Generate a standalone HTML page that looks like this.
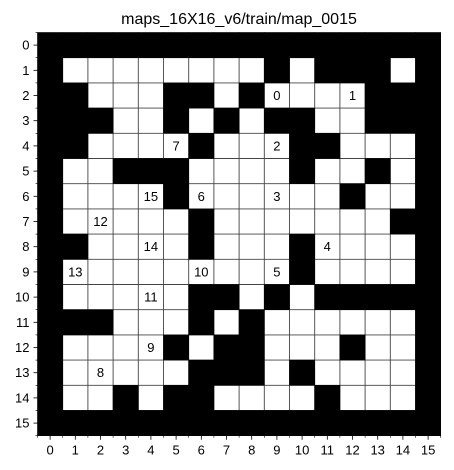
<!DOCTYPE html>
<html><head><meta charset="utf-8"><style>
html,body{margin:0;padding:0;background:#fff;}
svg{display:block;font-family:"Liberation Sans","DejaVu Sans",sans-serif;}
</style></head><body>
<svg id="chart" width="454" height="470" viewBox="0 0 454 470" xmlns="http://www.w3.org/2000/svg">
<text x="239" y="24" font-size="16" text-anchor="middle" fill="#000">maps_16X16_v6/train/map_0015</text>
<g id="cells"></g><g id="grid"></g><g id="labels"></g><g id="axes"></g>
</svg>
<script>
const rows = [
"1111111111111111",
"1000000001011101",
"1100011010000111",
"1110010101100111",
"1100001000110001",
"1001110000100101",
"1000010000001001",
"1000001000000011",
"1100001000100001",
"1000000000100001",
"1000001101011111",
"1110001010000001",
"1000010110001001",
"1000001110100001",
"1001011000010001",
"1111111111111111"
];
const labelNums = [0,1,2,3,4,5,6,7,8,9,10,11,12,13,14,15];
const labelCols = [9,12,9,9,11,9,6,5,2,4,6,4,2,1,4,4];
const labelRows = [2,2,4,6,8,9,6,4,13,12,9,10,7,9,8,6];
const ticks = [0,1,2,3,4,5,6,7,8,9,10,11,12,13,14,15];

const NS="http://www.w3.org/2000/svg";
const x0=37.5, y0=32.5, cs=25.2, n=16;
const X=c=>x0+c*cs, Y=r=>y0+r*cs;
function mk(tag,attrs,parent){const e=document.createElementNS(NS,tag);for(const k in attrs)e.setAttribute(k,attrs[k]);parent.appendChild(e);return e;}
const cells=document.getElementById('cells'),grid=document.getElementById('grid'),labels=document.getElementById('labels'),axes=document.getElementById('axes');
mk('rect',{x:X(0),y:Y(0),width:cs*n,height:cs*n,fill:'#fff'},cells);
for(let i=1;i<n;i++){
  mk('line',{x1:X(i),y1:Y(0),x2:X(i),y2:Y(n),stroke:'#444','stroke-width':0.9},grid);
  mk('line',{x1:X(0),y1:Y(i),x2:X(n),y2:Y(i),stroke:'#444','stroke-width':0.9},grid);
}
rows.forEach((row,r)=>{[...row].forEach((v,c)=>{if(v==='1'){
  const el=mk('rect',{x:X(c)-0.3,y:Y(r)-0.3,width:cs+0.6,height:cs+0.6,fill:'#000'},grid);
  
  
}});});
labelNums.forEach((num,i)=>{
  const t=mk('text',{x:X(labelCols[i]+0.5),y:Y(labelRows[i]+0.5)+4.5,'font-size':13,'text-anchor':'middle',fill:'#000'},labels);
  t.textContent=num;
  
  
});
ticks.forEach(t=>{
  const cx=X(t+0.5), cy=Y(t+0.5);
  mk('line',{x1:cx,y1:Y(n),x2:cx,y2:Y(n)+4,stroke:'#000','stroke-width':0.8},axes);
  mk('line',{x1:X(0),y1:cy,x2:X(0)-4,y2:cy,stroke:'#000','stroke-width':0.8},axes);
  const xl=mk('text',{x:cx,y:Y(n)+19,'font-size':13,'text-anchor':'middle',fill:'#000'},axes);
  xl.textContent=t;
  
  
  const yl=mk('text',{x:X(0)-8,y:cy+4.5,'font-size':13,'text-anchor':'end',fill:'#000'},axes);
  yl.textContent=t;
  
  
});
for(let i=0;i<=n;i++){
  mk('line',{x1:X(i),y1:Y(n),x2:X(i),y2:Y(n)+2,stroke:'#000','stroke-width':0.6},axes);
  mk('line',{x1:X(0),y1:Y(i),x2:X(0)-2,y2:Y(i),stroke:'#000','stroke-width':0.6},axes);
}
</script>
</body></html>
